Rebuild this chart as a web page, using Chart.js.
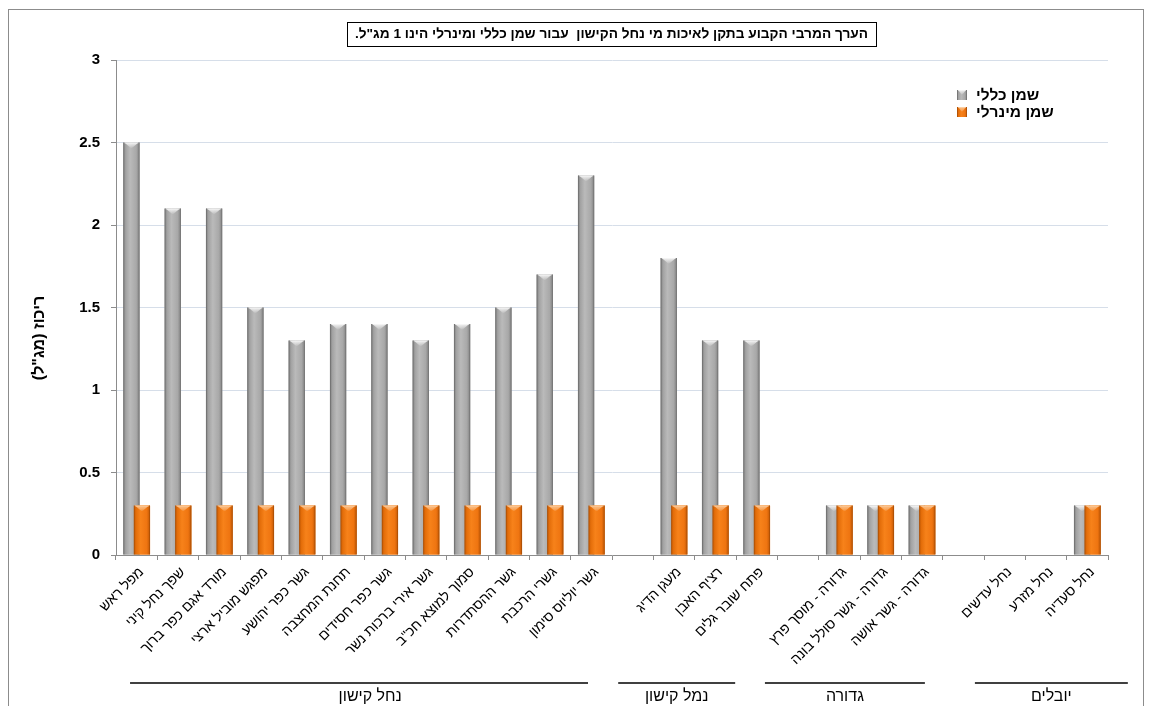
<!DOCTYPE html>
<html lang="he">
<head>
<meta charset="utf-8">
<title>ריכוז שמן כללי ושמן מינרלי</title>
<script src="https://cdn.jsdelivr.net/npm/chart.js@4.4.1/dist/chart.umd.min.js"></script>
<style>
  html, body { margin: 0; padding: 0; background: #ffffff; }
  #wrap { width: 1150px; height: 706px; position: relative; }
  canvas { display: block; }
</style>
</head>
<body>
<div id="wrap"><canvas id="c" width="1150" height="706" dir="rtl"></canvas></div>
<script>
// Sampling stations (empty strings separate the station groups)
const categories = [
  'מפל ראש', 'שפך נחל קיני', 'מורד אגם כפר ברוך', 'מפגש מוביל ארצי',
  'גשר כפר יהושע', 'תחנת המחצבה', 'גשר כפר חסידים', 'גשר אירי ברכות נשר',
  'סמוך למוצא חכ"ב', 'גשר ההסתדרות', 'גשרי הרכבת', 'גשר יוליוס סימון',
  '',
  'מעגן הדיג', 'רציף האבן', 'פתח שובר גלים',
  '',
  'גדורה - מוסך פרץ', 'גדורה - גשר סולל בונה', 'גדורה - גשר אושה',
  '',
  'נחל עדשים', 'נחל מזרע', 'נחל סעדיה'
];

// Total oil (mg/l)
const totalOil = [
  2.5, 2.1, 2.1, 1.5, 1.3, 1.4, 1.4, 1.3, 1.4, 1.5, 1.7, 2.3,
  null,
  1.8, 1.3, 1.3,
  null,
  0.3, 0.3, 0.3,
  null,
  null, null, 0.3
];

// Mineral oil (mg/l)
const mineralOil = [
  0.3, 0.3, 0.3, 0.3, 0.3, 0.3, 0.3, 0.3, 0.3, 0.3, 0.3, 0.3,
  null,
  0.3, 0.3, 0.3,
  null,
  0.3, 0.3, 0.3,
  null,
  null, null, 0.3
];

const seriesNames = ['שמן כללי', 'שמן מינרלי'];

// Station groups: name, first and last category index they span
const groupNames = ['נחל קישון', 'נמל קישון', 'גדורה', 'יובלים'];
const groupStart = [0, 13, 17, 21];
const groupEnd   = [11, 15, 19, 23];

const yTicks = { min: 0, max: 3, step: 0.5 };

const chartTitle = 'הערך המרבי הקבוע בתקן לאיכות מי נחל הקישון  עבור שמן כללי ומינרלי הינו 1 מג"ל.';
const yTitle = 'ריכוז (מג"ל)';

const FONT = '"Liberation Sans", Arial, "DejaVu Sans", sans-serif';

// Bevel palettes for the two series
const palettes = [
  { base: '#a6a6a6', stops: ['#7c7c7c', '#a2a2a2', '#bababa', '#a8a8a8', '#808080'], capTop: '#f2f2f2' },
  { base: '#f07812', stops: ['#c25804', '#e46e0a', '#f7821a', '#ef7511', '#c05704'], capTop: '#fcb670' }
];

function bevelFill(ctx, left, top, w, h, pal) {
  const g = ctx.createLinearGradient(left, 0, left + w, 0);
  g.addColorStop(0, pal.stops[0]);
  g.addColorStop(0.15, pal.stops[1]);
  g.addColorStop(0.42, pal.stops[2]);
  g.addColorStop(0.8, pal.stops[3]);
  g.addColorStop(1, pal.stops[4]);
  ctx.fillStyle = g;
  ctx.fillRect(left, top, w, h);
  // top cap
  const capH = Math.min(6, h / 2);
  const cg = ctx.createLinearGradient(0, top, 0, top + capH);
  cg.addColorStop(0, pal.capTop);
  cg.addColorStop(1, 'rgba(255,255,255,0)');
  ctx.fillStyle = cg;
  ctx.beginPath();
  ctx.moveTo(left + 1, top);
  ctx.lineTo(left + w - 1, top);
  ctx.lineTo(left + w / 2, top + capH);
  ctx.closePath();
  ctx.fill();
  ctx.fillStyle = 'rgba(255,255,255,0.35)';
  ctx.fillRect(left + 1, top, w - 2, 1);
  // side edges
  ctx.fillStyle = 'rgba(0,0,0,0.12)';
  ctx.fillRect(left, top, 1, h);
  ctx.fillRect(left + w - 1, top, 1, h);
}

const decorPlugin = {
  id: 'decor',
  // Shade the bars series by series so the mineral-oil bar sits in front of the total-oil bar
  afterDatasetsDraw(chart) {
    const ctx = chart.ctx;
    ctx.save();
    chart.data.datasets.forEach((ds, di) => {
      const meta = chart.getDatasetMeta(di);
      const pal = palettes[di];
      meta.data.forEach((el, i) => {
        const v = ds.data[i];
        if (v === null || v === undefined) return;
        const p = el.getProps(['x', 'y', 'base', 'width'], true);
        bevelFill(ctx, p.x - p.width / 2, p.y, p.width, p.base - p.y, pal);
      });
    });
    ctx.restore();
  },
  afterDraw(chart) {
    const ctx = chart.ctx;
    const xs = chart.scales.x;
    const area = chart.chartArea;
    ctx.save();

    // outer frame
    ctx.strokeStyle = '#8c8c8c';
    ctx.lineWidth = 1;
    ctx.strokeRect(8.5, 9.5, 1135, 720);

    // boxed title
    ctx.direction = 'rtl';
    ctx.font = 'bold 13.7px ' + FONT;
    ctx.textBaseline = 'middle';
    ctx.textAlign = 'center';
    ctx.fillStyle = '#000';
    const tw = ctx.measureText(chartTitle).width;
    const cx = 611.5;
    ctx.fillText(chartTitle, cx, 34.5);
    ctx.strokeStyle = '#000';
    ctx.lineWidth = 1;
    ctx.strokeRect(Math.round(cx - tw / 2 - 8) + 0.5, 22.5, Math.round(tw + 16), 24);

    // y axis title
    ctx.save();
    ctx.translate(40, 338);
    ctx.rotate(-Math.PI / 2);
    ctx.font = 'bold 16px ' + FONT;
    ctx.textAlign = 'center';
    ctx.fillText(yTitle, 0, 0);
    ctx.restore();

    // legend
    ctx.font = 'bold 15.5px ' + FONT;
    ctx.textAlign = 'left';
    chart.data.datasets.forEach((ds, i) => {
      const y = 95 + i * 17;
      bevelFill(ctx, 957, y - 5, 10, 10, palettes[i]);
      ctx.fillStyle = '#000';
      ctx.fillText(ds.label, 976, y + 0.5);
    });

    // group brackets under the rotated station names (insets in category widths)
    const slot = (area.right - area.left) / categories.length;
    ctx.font = '16px ' + FONT;
    ctx.textAlign = 'center';
    ctx.strokeStyle = '#000';
    ctx.lineWidth = 1.3;
    const insetL = [0.34, -0.85, -1.30, -0.22];
    const insetR = [-0.58, -1.02, -0.43, 0.48];
    const textShift = [0.27, 0, 0, 0];
    groupNames.forEach((name, g) => {
      const x0 = xs.getPixelForValue(groupStart[g]) - slot * 0.5 + insetL[g] * slot;
      const x1 = xs.getPixelForValue(groupEnd[g]) + slot * 0.5 + insetR[g] * slot;
      ctx.beginPath();
      ctx.moveTo(x0, 683);
      ctx.lineTo(x1, 683);
      ctx.stroke();
      ctx.fillStyle = '#000';
      ctx.fillText(name, (x0 + x1) / 2 + textShift[g] * slot, 697);
    });
    ctx.restore();
  }
};

new Chart(document.getElementById('c'), {
  type: 'bar',
  data: {
    labels: categories,
    datasets: [
      { label: seriesNames[0], data: totalOil, backgroundColor: palettes[0].base, borderWidth: 0,
        categoryPercentage: 0.508, barPercentage: 1.55 },
      { label: seriesNames[1], data: mineralOil, backgroundColor: palettes[1].base, borderWidth: 0,
        categoryPercentage: 0.508, barPercentage: 1.55 }
    ]
  },
  options: {
    responsive: false,
    animation: false,
    devicePixelRatio: 1,
    layout: { padding: { left: 0, right: 42, top: 60, bottom: 0 } },
    plugins: {
      legend: { display: false },
      title: { display: false },
      tooltip: { enabled: false }
    },
    scales: {
      x: {
        offset: true,
        grid: {
          display: true, offset: true, drawOnChartArea: false,
          drawTicks: true, tickLength: 5, color: '#8c8c8c', tickColor: '#8c8c8c'
        },
        border: { color: '#8c8c8c' },
        ticks: {
          autoSkip: false, minRotation: 45, maxRotation: 45, padding: 4, labelOffset: 5,
          color: '#000', font: { family: FONT, size: 14 }
        },
        afterFit(scale) { scale.height = 151; }
      },
      y: {
        min: yTicks.min, max: yTicks.max,
        grid: { color: '#d6dee9', tickColor: '#8c8c8c', tickLength: 5 },
        border: { color: '#8c8c8c' },
        ticks: {
          stepSize: yTicks.step, padding: 11, color: '#000',
          font: { family: FONT, size: 15, weight: 'bold' },
          callback: (v) => String(Math.round(v * 10) / 10)
        },
        afterFit(scale) { scale.width = 116; }
      }
    }
  },
  plugins: [decorPlugin]
});
</script>
</body>
</html>
